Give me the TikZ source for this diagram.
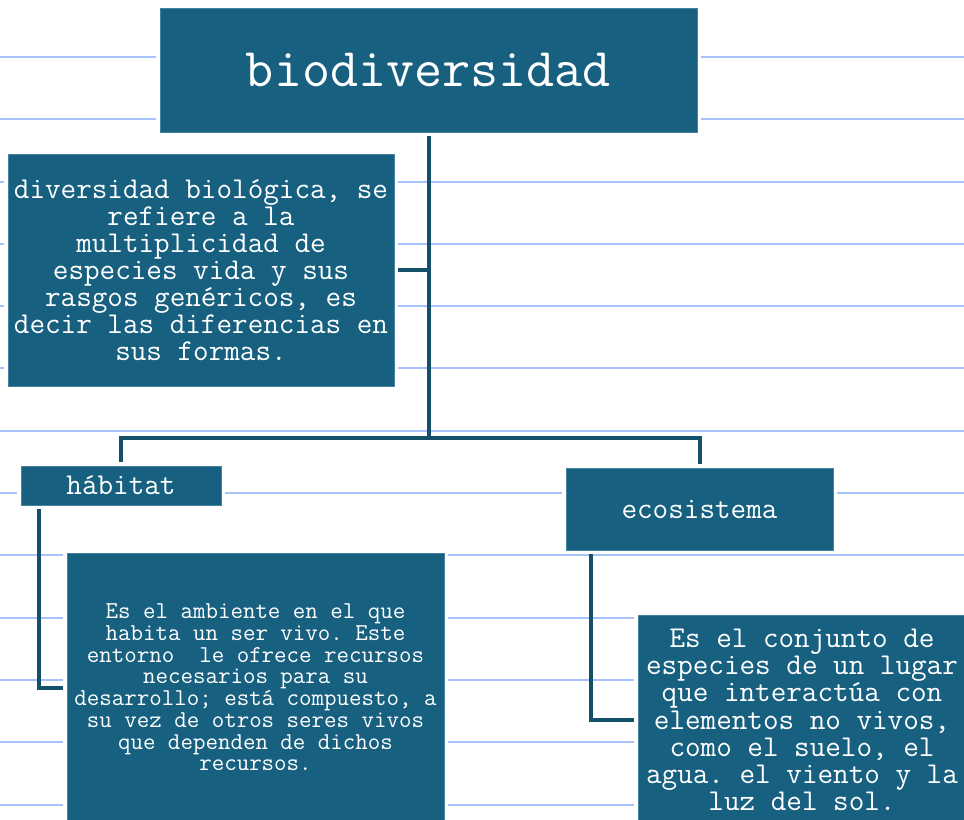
\documentclass[tikz,border=0pt]{standalone}
\usepackage{fontspec}
\definecolor{azulcaja}{RGB}{23,96,128}
\definecolor{bordecaja}{RGB}{70,130,162}
\definecolor{azulenlace}{RGB}{21,80,106}
\definecolor{renglon}{RGB}{166,194,250}

\begin{document}
\begin{tikzpicture}[x=0.75pt,y=-0.75pt,
  bloque/.style={fill=azulcaja,draw=bordecaja,line width=0.6pt,text=white,inner sep=0pt,
    align=center,preaction={draw=white,line width=6pt}},
  letra/.style 2 args={font=\ttfamily\fontsize{#1}{#2}\selectfont\frenchspacing},
  enlace/.style={draw=azulenlace,line width=3pt}]
\useasboundingbox (0,0) rectangle (964,819);
\clip (0,0) rectangle (964,819);
\foreach \k in {0,...,12}
  \draw [renglon,line width=1.5pt] (0,{56.9+62.3*\k}) -- (964,{56.9+62.3*\k});

\node [bloque,letra={40.9pt}{41pt},minimum width=402.75pt,minimum height=93pt] (bio) at (428.5,70) {biodiversidad};
\node [bloque,letra={22.7pt}{20.3pt},minimum width=289.5pt,minimum height=174pt] (div) at (201,270)
  {diversidad biológica, se\\refiere a la\\multiplicidad de\\especies vida y sus\\rasgos genéricos, es\\decir las diferencias en\\sus formas.};
\node [bloque,letra={22.7pt}{20.3pt},minimum width=150pt,minimum height=29.25pt] (hab) at (121,485.5) {hábitat};
\node [bloque,letra={22.7pt}{20.3pt},minimum width=200.25pt,minimum height=61.5pt] (eco) at (699.5,509) {ecosistema};
\node [bloque,letra={18.2pt}{16.3pt},minimum width=282.75pt,minimum height=201.75pt] (habdef) at (255.5,687.5)
  {Es el ambiente en el que\\habita un ser vivo. Este\\entorno\ \ le ofrece recursos\\necesarios para su\\desarrollo; está compuesto, a\\su vez de otros seres vivos\\que dependen de dichos\\recursos.};
\node [bloque,letra={22.7pt}{20.4pt},minimum width=246pt,minimum height=157.5pt] (ecodef) at (802,720)
  {Es el conjunto de\\especies de un lugar\\que interactúa con\\elementos no vivos,\\como el suelo, el\\agua. el viento y la\\luz del sol.};

\coordinate (fork) at (428.5,438);
\draw [enlace,shorten <=3pt] (bio.south) -- (fork);
\draw [enlace,shorten <=3pt] (div.east) -- (div.east -| fork);
\draw [enlace,shorten >=3pt] (fork) -| (hab.north);
\draw [enlace,shorten >=3pt] (fork) -| (eco.north);
\draw [enlace,shorten <=3pt,shorten >=3pt] ([xshift=13.5pt]hab.south west) |- (habdef.west);
\draw [enlace,shorten <=3pt,shorten >=3pt] ([xshift=18.75pt]eco.south west) |- (ecodef.west);
\end{tikzpicture}
\end{document}
